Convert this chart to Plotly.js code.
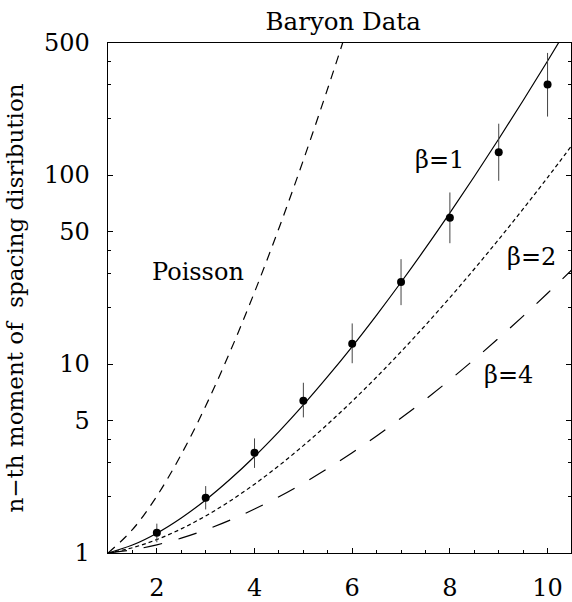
<!DOCTYPE html>
<html>
<head>
<meta charset="utf-8">
<script src="https://cdn.plot.ly/plotly-3.0.1.min.js"></script>
<style>html,body{margin:0;padding:0;background:#fff;}#chart{width:572px;height:602px;}</style>
</head>
<body>
<div id="chart"></div>
<script>
// Moment order n (x axis)
const nGrid = [1,1.5,2,2.5,3,3.5,4,4.5,5,5.5,6,6.5,7,7.5,8,8.5,9,9.5,10,10.5];
// Poisson curve (leaves the frame near n≈5.8)
const poissonN = [1,1.5,2,2.5,3,3.5,4,4.5,5,5.5,5.75,6];
const poissonVals = [1,1.329,2,3.323,6,11.63,24,52.34,120,287.9,453.0,720];
// beta = 1, 2, 4 curves (at nGrid)
const beta1Vals = [1,1.1016,1.273,1.5324,1.909,2.4546,3.242,4.390,6.078,8.595,12.38,18.166,27.09,41.03,63.07,98.30,155.2,248.2,401.5,657.1];
const beta2Vals = [1,1.0666,1.178,1.3419,1.571,1.8849,2.313,2.8983,3.701,4.8111,6.359,8.5354,11.63,16.060,22.47,31.844,45.66,66.22,97.06,143.81];
const beta4Vals = [1,1.0392,1.1045,1.1984,1.3256,1.4920,1.708,1.9853,2.342,2.8015,3.395,4.1661,5.175,6.4973,8.251,10.582,13.71,17.94,23.69,31.56];
// Baryon data points with asymmetric error bars
const dataN = [2,3,4,5,6,7,8,9,10];
const dataVals = [1.28,1.96,3.39,6.4,12.8,27.2,59.4,132,302];
const errPlus = [0.15,0.30,0.65,1.56,3.6,8.7,21.5,55,141];
const errMinus = [0.14,0.26,0.57,1.18,2.7,6.7,15.8,38.7,98];
// Tick labels
const xTickVals = [2,4,6,8,10];
const xTickText = ['2','4','6','8','10'];
const yTickVals = [1,5,10,50,100,500];
const yTickText = ['1','5','10','50','100','500'];
const yMinorVals = [2,3,4,20,30,40,200,300,400];

const FONT = 'DejaVu Serif';

const traces = [
  {x: poissonN, y: poissonVals, mode:'lines', line:{color:'#000', width:1.2, dash:'9px,7px', shape:'spline'}, hoverinfo:'skip'},
  {x: nGrid, y: beta1Vals, mode:'lines', line:{color:'#000', width:1.2, shape:'spline'}, hoverinfo:'skip'},
  {x: nGrid, y: beta2Vals, mode:'lines', line:{color:'#000', width:1.2, dash:'4px,3px', shape:'spline'}, hoverinfo:'skip'},
  {x: nGrid, y: beta4Vals, mode:'lines', line:{color:'#000', width:1.2, dash:'19px,17px', shape:'spline'}, hoverinfo:'skip'},
  {x: dataN, y: dataVals, mode:'markers', marker:{color:'#000', size:8},
   error_y:{type:'data', symmetric:false, array:errPlus, arrayminus:errMinus, color:'#444', thickness:1, width:0}, hoverinfo:'skip'}
];

const layout = {
  width:572, height:602,
  margin:{l:107.5, r:1.3, t:43.3, b:49.3},
  paper_bgcolor:'#fff', plot_bgcolor:'#fff',
  showlegend:false,
  font:{family:FONT, color:'#000', size:24},
  title:{text:'Baryon Data', font:{family:FONT, size:24.5, color:'#000'}, x:0.508, xref:'paper', xanchor:'center', y:1-21/602, yref:'container', yanchor:'middle'},
  xaxis:{
    range:[1,10.48], showgrid:false, zeroline:false,
    showline:true, linecolor:'#000', linewidth:1.3, mirror:true,
    ticks:'inside', ticklen:5, tickwidth:1, tickcolor:'#000',
    tickmode:'array', tickvals:xTickVals, ticktext:xTickText,
    ticklabelstandoff:13,
    tickfont:{family:FONT, size:24, color:'#000'},
    minor:{dtick:0.5, tick0:0, ticks:'inside', ticklen:3, tickwidth:1, tickcolor:'#000', showgrid:false}
  },
  yaxis:{
    type:'log', range:[0, Math.log10(500)], showgrid:false, zeroline:false,
    showline:true, linecolor:'#000', linewidth:1.3, mirror:'ticks',
    ticks:'inside', ticklen:5, tickwidth:1, tickcolor:'#000',
    tickmode:'array', tickvals:yTickVals, ticktext:yTickText,
    ticklabelstandoff:12,
    tickfont:{family:FONT, size:24, color:'#000'},
    minor:{tickmode:'array', tickvals:yMinorVals, ticks:'inside', ticklen:3, tickwidth:1, tickcolor:'#000', showgrid:false},
    title:{text:'n\u2212th moment of  spacing disribution', font:{family:FONT, size:23, color:'#000'}, standoff:14}
  },
  annotations:[
    {x:2.84, y:Math.log10(30.7), xref:'x', yref:'y', text:'Poisson', showarrow:false, font:{family:FONT, size:24, color:'#000'}, xanchor:'center', yanchor:'middle'},
    {x:7.78, y:Math.log10(120), xref:'x', yref:'y', text:'\u03b2=1', showarrow:false, font:{family:FONT, size:24, color:'#000'}, xanchor:'center', yanchor:'middle'},
    {x:9.68, y:Math.log10(36.9), xref:'x', yref:'y', text:'\u03b2=2', showarrow:false, font:{family:FONT, size:24, color:'#000'}, xanchor:'center', yanchor:'middle'},
    {x:9.19, y:Math.log10(8.75), xref:'x', yref:'y', text:'\u03b2=4', showarrow:false, font:{family:FONT, size:24, color:'#000'}, xanchor:'center', yanchor:'middle'}
  ]
};

Plotly.newPlot('chart', traces, layout, {displayModeBar:false, staticPlot:true});
</script>
</body>
</html>
